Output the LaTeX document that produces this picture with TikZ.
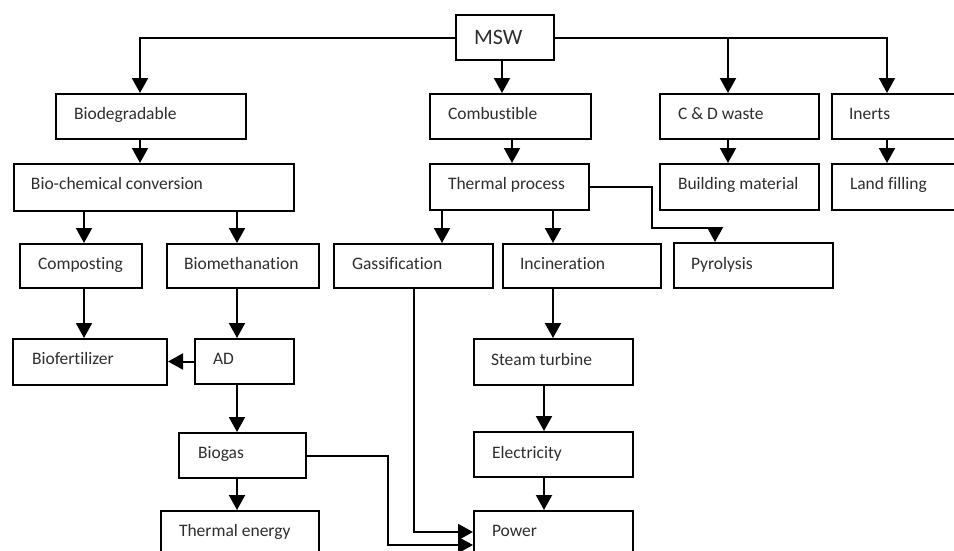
\documentclass[tikz,border=0pt]{standalone}
\usepackage{fontspec}
\setmainfont{Carlito}[Ligatures=NoCommon]
\usetikzlibrary{arrows.meta}
\definecolor{txtc}{HTML}{2E2E2E}
\begin{document}
\begin{tikzpicture}[x=1pt,y=-1pt,
  bx/.style n args={4}{draw=black, line width=2pt, anchor=north west,
    inner xsep=0pt, inner ysep=0pt, text depth=#2pt, text height=#4pt,
    execute at begin node={\hbox to #1pt\bgroup\hskip #3pt\relax},
    execute at end node={\hfil\egroup},
    font=\fontsize{17.5}{20}\selectfont, text=txtc},
  arr/.style={draw=black, line width=2pt, -{Triangle[length=15pt,width=16pt]}},
]
\useasboundingbox (0,0) rectangle (954,550);
\clip (0,0) rectangle (954,550);
\fill[white] (0,0) rectangle (954,550);

% boxes: bx={width}{height-baseline}{text offset}{baseline}
\node[bx={98}{16}{18}{29}, font=\fontsize{22}{24}\selectfont] (msw) at (455,14) {MSW};
\node[bx={190}{20}{18}{25}] (bio) at (55,93) {Biodegradable};
\node[bx={280}{22}{17}{25}] (biochem) at (13,163) {Bio-chemical conversion};
\node[bx={161}{20}{18}{25}] (comb) at (429,93) {Combustible};
\node[bx={159}{21}{18}{25}] (thermal) at (429,163) {Thermal process};
\node[bx={159}{20}{18}{25}] (cd) at (659,93) {C \& D waste};
\node[bx={159}{21}{18}{25}] (building) at (659,163) {Building material};
\node[bx={135}{20}{17}{25}] (inerts) at (831,93) {Inerts};
\node[bx={135}{21}{18}{25}] (land) at (831,163) {Land filling};
\node[bx={122}{19}{18}{25}] (compost) at (19,243) {Composting};
\node[bx={152}{19}{17}{25}] (biometh) at (166,243) {Biomethanation};
\node[bx={159}{19}{18}{25}] (gass) at (333,243) {Gassification};
\node[bx={158}{19}{17}{25}] (incin) at (502,243) {Incineration};
\node[bx={159}{19}{17}{26}] (pyro) at (673,242) {Pyrolysis};
\node[bx={154}{21}{19}{25}] (biofert) at (12,338) {Biofertilizer};
\node[bx={99}{20}{18}{25}] (ad) at (194,338) {AD};
\node[bx={127}{20}{19}{25}] (biogas) at (178,432) {Biogas};
\node[bx={158}{35}{18}{25}] (therme) at (160,510) {Thermal energy};
\node[bx={159}{20}{17}{26}] (steam) at (473,338) {Steam turbine};
\node[bx={159}{19}{18}{26}] (elec) at (473,431) {Electricity};
\node[bx={159}{35}{18}{25}] (power) at (473,510) {Power};

% connectors
\draw[arr] (msw.west) -| (bio.north -| 140,0);
\draw[arr] (msw.east) -| (inerts.north -| 887,0);
\draw[arr] (msw.east -| 728,0) -- (cd.north -| 728,0);
\draw[arr] (msw.south -| 502,0) -- (comb.north -| 502,0);
\draw[arr] (bio.south -| 140,0) -- (biochem.north -| 140,0);
\draw[arr] (comb.south -| 512,0) -- (thermal.north -| 512,0);
\draw[arr] (cd.south -| 728,0) -- (building.north -| 728,0);
\draw[arr] (inerts.south -| 887,0) -- (land.north -| 887,0);
\draw[arr] (biochem.south -| 84,0) -- (compost.north -| 84,0);
\draw[arr] (biochem.south -| 237,0) -- (biometh.north -| 237,0);
\draw[arr] (thermal.south -| 442,0) -- (gass.north -| 442,0);
\draw[arr] (thermal.south -| 553,0) -- (incin.north -| 553,0);
\draw[arr] (thermal.east) -| (652,228) -| (pyro.north -| 715,0);
\draw[arr] (compost.south -| 84,0) -- (biofert.north -| 84,0);
\draw[arr] (biometh.south -| 237,0) -- (ad.north -| 237,0);
\draw[arr] (ad.west) -- (biofert.east |- ad.west);
\draw[arr] (ad.south -| 237,0) -- (biogas.north -| 237,0);
\draw[arr] (biogas.south -| 237,0) -- (therme.north -| 237,0);
\draw[arr] (incin.south -| 553,0) -- (steam.north -| 553,0);
\draw[arr] (steam.south -| 544,0) -- (elec.north -| 544,0);
\draw[arr] (elec.south -| 544,0) -- (power.north -| 544,0);
\draw[arr] (gass.south -| 414,0) |- (power.west |- 0,532);
\draw[arr] (biogas.east) -| (388,545) -- (power.west |- 0,545);
\end{tikzpicture}
\end{document}
